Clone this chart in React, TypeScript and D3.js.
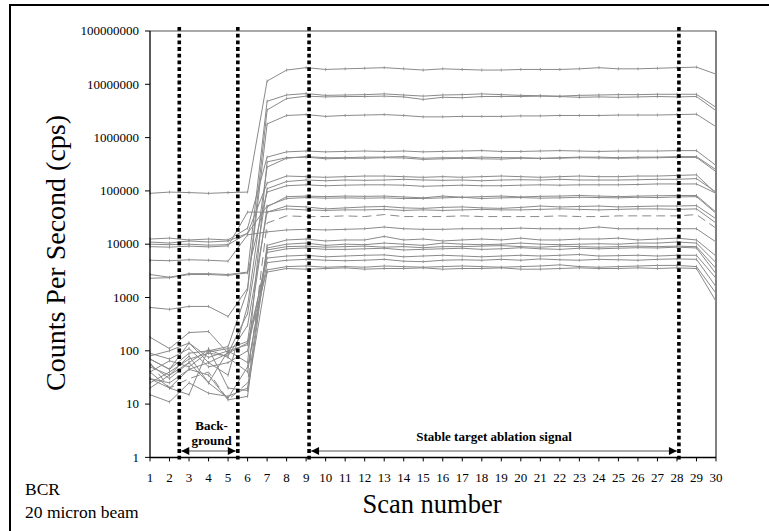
import React from "react";
import * as d3 from "d3";

const scans = [1, 2, 3, 4, 5, 6, 7, 8, 9, 10, 11, 12, 13, 14, 15, 16, 17, 18, 19, 20, 21, 22, 23, 24, 25, 26, 27, 28, 29, 30];
const yTicks = [1, 10, 100, 1000, 10000, 100000, 1000000, 10000000, 100000000];

const s1 = [90000, 95000, 93000, 90000, 93000, 95000, 11500000, 18500000, 20500000, 19000000, 19500000, 20000000, 20500000, 19500000, 18500000, 19500000, 19000000, 18500000, 18500000, 19000000, 19000000, 19000000, 19500000, 20500000, 19500000, 19500000, 20000000, 20500000, 21000000, 15500000];
const s2 = [2700, 2400, 2800, 2800, 2700, 3000, 4800000, 6300000, 6700000, 6200000, 6300000, 6400000, 6600000, 6300000, 6000000, 6300000, 6400000, 6600000, 6400000, 6200000, 6100000, 6000000, 6200000, 6300000, 6400000, 6400000, 6500000, 6500000, 6500000, 3700000];
const s3 = [650, 600, 680, 680, 440, 1500, 3300000, 5400000, 6000000, 5800000, 5900000, 5900000, 6000000, 5800000, 5200000, 5700000, 5600000, 5900000, 5900000, 5900000, 6000000, 5900000, 5700000, 5800000, 5700000, 5800000, 5900000, 5800000, 5900000, 3200000];
const s4 = [70, 45, 90, 100, 120, 1400, 1800000, 2600000, 2700000, 2500000, 2600000, 2650000, 2700000, 2600000, 2450000, 2450000, 2500000, 2500000, 2500000, 2550000, 2550000, 2600000, 2600000, 2600000, 2650000, 2650000, 2650000, 2700000, 2750000, 1600000];
const s5 = [12500, 13000, 12000, 12500, 12000, 20000, 430000, 540000, 560000, 540000, 550000, 560000, 550000, 560000, 540000, 550000, 560000, 570000, 550000, 550000, 560000, 570000, 560000, 550000, 560000, 560000, 560000, 570000, 570000, 300000];
const s6 = [30, 20, 45, 60, 35, 700, 280000, 410000, 440000, 420000, 420000, 430000, 430000, 440000, 410000, 420000, 420000, 430000, 420000, 420000, 410000, 420000, 430000, 430000, 420000, 430000, 430000, 440000, 440000, 250000];
const s7 = [50, 35, 80, 25, 100, 60, 350000, 420000, 430000, 400000, 410000, 410000, 420000, 415000, 390000, 400000, 410000, 400000, 395000, 410000, 405000, 410000, 420000, 415000, 410000, 415000, 420000, 425000, 425000, 230000];
const s8 = [11000, 10500, 11500, 11000, 11500, 16000, 140000, 190000, 185000, 180000, 185000, 190000, 190000, 185000, 180000, 185000, 180000, 185000, 190000, 185000, 180000, 185000, 190000, 185000, 185000, 190000, 190000, 195000, 200000, 90000];
const s9 = [80, 100, 140, 60, 90, 500, 110000, 150000, 160000, 155000, 160000, 158000, 160000, 165000, 160000, 158000, 160000, 155000, 160000, 162000, 160000, 165000, 160000, 160000, 160000, 162000, 165000, 165000, 170000, 95000];
const s10 = [2300, 2350, 2700, 2700, 2600, 2900, 95000, 125000, 130000, 125000, 128000, 130000, 130000, 128000, 122000, 125000, 128000, 125000, 125000, 128000, 130000, 128000, 130000, 130000, 130000, 132000, 135000, 135000, 135000, 90000];
const s11 = [40, 65, 50, 95, 110, 150, 50000, 78000, 80000, 78000, 80000, 79000, 80000, 77000, 74000, 80000, 76000, 78000, 80000, 77000, 79000, 80000, 82000, 80000, 78000, 80000, 81000, 82000, 82000, 40000];
const s12 = [10000, 9800, 10000, 9600, 9800, 16000, 52000, 72000, 75000, 73000, 74000, 73000, 74000, 72000, 72000, 74000, 76000, 72000, 74000, 75000, 73000, 74000, 76000, 75000, 74000, 76000, 75000, 77000, 78000, 38000];
const s13 = [25, 40, 70, 90, 80, 300, 40000, 52000, 50000, 46000, 48000, 50000, 51000, 48000, 47000, 49000, 50000, 48000, 47000, 49000, 52000, 50000, 51000, 52000, 50000, 51000, 52000, 52000, 53000, 30000];
const s14 = [9000, 8800, 9200, 8900, 9300, 40000, 40000, 46000, 44000, 43000, 44000, 44000, 45000, 43000, 44000, 43000, 44000, 45000, 44000, 44000, 45000, 46000, 45000, 44000, 45000, 46000, 46000, 45000, 46000, 25000];
const s15 = [60, 20, 30, 40, 12, 25, 25000, 34000, 33000, 33000, 34000, 33000, 36000, 33000, 33000, 33000, 34000, 33000, 33000, 33000, 33000, 34000, 33000, 33000, 34000, 34000, 34000, 34000, 36000, 20000];
const s16 = [5000, 4900, 5100, 5000, 4800, 15000, 17000, 18500, 19000, 18500, 19000, 19500, 21000, 19500, 19000, 19000, 19500, 19500, 19500, 20000, 19500, 19500, 19500, 21000, 19500, 19500, 19500, 19500, 19500, 11000];
const s17 = [15, 11, 25, 16, 14, 20, 9500, 12000, 12500, 11500, 12000, 12000, 14000, 12000, 12500, 11500, 12000, 12500, 12000, 13000, 12000, 12000, 12500, 12500, 13000, 12000, 12500, 13000, 12000, 6000];
const s18 = [30, 25, 45, 35, 12, 14, 8500, 10000, 10500, 9500, 10000, 9800, 10500, 10000, 9500, 10500, 10000, 9800, 10000, 10500, 10000, 9800, 10000, 10200, 10000, 10500, 10500, 11000, 10500, 4500];
const s19 = [55, 30, 60, 105, 75, 40, 7800, 9000, 9200, 8800, 9000, 9200, 8800, 9000, 8600, 9000, 9000, 9200, 9400, 9000, 8800, 9200, 9000, 8800, 9000, 9200, 9000, 9200, 9000, 3500];
const s20 = [90, 70, 110, 50, 60, 100, 7000, 8200, 8500, 8000, 8000, 8200, 8400, 7800, 8000, 8200, 8400, 8000, 8200, 8600, 8200, 8000, 8400, 8200, 8400, 8600, 8500, 8800, 8500, 2800];
const s21 = [180, 110, 220, 230, 90, 140, 5500, 6000, 6200, 5800, 6000, 6200, 6300, 5800, 6000, 6200, 6000, 5800, 6000, 6200, 6000, 6200, 6400, 6000, 6100, 6200, 6000, 6200, 6200, 2300];
const s22 = [20, 35, 60, 25, 13, 50, 4500, 5000, 5200, 5000, 4900, 5000, 5200, 4800, 4700, 5000, 5100, 5000, 5200, 5000, 5300, 5100, 5000, 5200, 5100, 5000, 5200, 5300, 5200, 1600];
const s23 = [70, 45, 140, 75, 100, 130, 3300, 3800, 3900, 3700, 3800, 3700, 3900, 3800, 3700, 3800, 3900, 3800, 3700, 3800, 3900, 4100, 3800, 3700, 3800, 3900, 4000, 4000, 3800, 1200];
const s24 = [40, 20, 15, 110, 20, 18, 3000, 3500, 3400, 3500, 3600, 3400, 3500, 3500, 3600, 3400, 3500, 3500, 3600, 3400, 3400, 3500, 3600, 3500, 3500, 3600, 3500, 3600, 3500, 850];

const solidSeries = [s1, s2, s3, s4, s5, s6, s7, s8, s9, s10, s11, s12, s13, s14, s16, s17, s18, s19, s20, s21, s22, s23, s24];
const dashedSeries = [s15];

// annotation positions in scan units
const dividerScans = [2.5, 5.5, 9.15, 28.1];
const backgroundSpan = [2.5, 5.5];
const stableSpan = [9.15, 28.1];

const W = 769, H = 531;
const left = 150, right = 716, top = 31, bottom = 457.4;
const FONT = '"Liberation Serif", "Times New Roman", Times, "DejaVu Serif", serif';
const GRAY = "#8a8a8a";

export default function App() {
  const x = d3.scaleLinear().domain([1, 30]).range([left, right]);
  const y = d3.scaleLog().domain([1, 1e8]).range([bottom, top]);
  const line = d3.line<number>().x((_, i) => x(scans[i])).y((v) => y(v));

  const arrowY = 451;
  const ts = { fontFamily: FONT };

  return (
    <svg width={W} height={H} style={{ position: "absolute", left: 0, top: 0, fontFamily: FONT }}>
      <defs>
        <marker id="ahEnd" viewBox="0 0 10 10" refX="10" refY="5" markerWidth="9" markerHeight="8" markerUnits="userSpaceOnUse" orient="auto">
          <path d="M0,0 L10,5 L0,10 z" fill="#000" />
        </marker>
        <marker id="ahStart" viewBox="0 0 10 10" refX="0" refY="5" markerWidth="9" markerHeight="8" markerUnits="userSpaceOnUse" orient="auto">
          <path d="M10,0 L0,5 L10,10 z" fill="#000" />
        </marker>
      </defs>
      <rect x={0} y={0} width={W} height={H} fill="#fff" />
      <rect x={10} y={5} width={800} height={600} fill="none" stroke="#000" strokeWidth={2} />

      {/* plot frame */}
      <line x1={left} x2={right} y1={top} y2={top} stroke="#555" strokeWidth={1} />
      <line x1={right} x2={right} y1={top} y2={bottom} stroke="#000" strokeWidth={1} />

      {/* series */}
      {solidSeries.map((s, k) => (
        <g key={"s" + k}>
          <path d={line(s) || ""} fill="none" stroke={GRAY} strokeWidth={1} />
          {s.map((v, i) => (
            <line key={i} x1={x(scans[i])} x2={x(scans[i])} y1={y(v) - 1.5} y2={y(v) + 1.5} stroke={GRAY} strokeWidth={0.8} />
          ))}
        </g>
      ))}
      {dashedSeries.map((s, k) => (
        <path key={"d" + k} d={line(s) || ""} fill="none" stroke={GRAY} strokeWidth={1} strokeDasharray="9,5" />
      ))}

      {/* axes */}
      <line x1={left} x2={left} y1={top} y2={bottom} stroke="#000" strokeWidth={1.3} />
      <line x1={left} x2={right} y1={bottom} y2={bottom} stroke="#000" strokeWidth={1.5} />
      {yTicks.map((t) => (
        <g key={t}>
          <line x1={left - 5} x2={left} y1={y(t)} y2={y(t)} stroke="#000" strokeWidth={1} />
          <text style={ts} x={139} y={y(t)} dy="0.33em" textAnchor="end" fontSize={13}>{String(t)}</text>
        </g>
      ))}
      {scans.map((s) => (
        <g key={s}>
          <line x1={x(s)} x2={x(s)} y1={bottom} y2={bottom + 4} stroke="#000" strokeWidth={1} />
          <text style={ts} x={x(s)} y={482} textAnchor="middle" fontSize={13}>{String(s)}</text>
        </g>
      ))}

      {/* dotted dividers */}
      {dividerScans.map((d) => (
        <line key={d} x1={x(d)} x2={x(d)} y1={27} y2={461} stroke="#000" strokeWidth={3.6} strokeDasharray="3.8,2.9" />
      ))}

      {/* arrows */}
      <line x1={x(backgroundSpan[0]) + 2} x2={x(backgroundSpan[1]) - 2} y1={arrowY} y2={arrowY} stroke="#555" strokeWidth={1} markerStart="url(#ahStart)" markerEnd="url(#ahEnd)" />
      <line x1={x(stableSpan[0]) + 2} x2={x(stableSpan[1]) - 2} y1={arrowY} y2={arrowY} stroke="#555" strokeWidth={1} markerStart="url(#ahStart)" markerEnd="url(#ahEnd)" />
      <text style={ts} x={(x(backgroundSpan[0]) + x(backgroundSpan[1])) / 2 + 3} y={430} textAnchor="middle" fontSize={13} fontWeight="bold">Back-</text>
      <text style={ts} x={(x(backgroundSpan[0]) + x(backgroundSpan[1])) / 2 + 3} y={445} textAnchor="middle" fontSize={13} fontWeight="bold">ground</text>
      <text style={ts} x={(x(stableSpan[0]) + x(stableSpan[1])) / 2} y={441} textAnchor="middle" fontSize={13} fontWeight="bold">Stable target ablation signal</text>

      {/* titles */}
      <text style={ts} x={432} y={513} textAnchor="middle" fontSize={26.5}>Scan number</text>
      <text style={ts} transform={`translate(65,${253}) rotate(-90)`} textAnchor="middle" fontSize={28}>Counts Per Second (cps)</text>
      <text style={ts} x={25} y={495} fontSize={17.5}>BCR</text>
      <text style={ts} x={25} y={518} fontSize={17.5}>20 micron beam</text>
    </svg>
  );
}
